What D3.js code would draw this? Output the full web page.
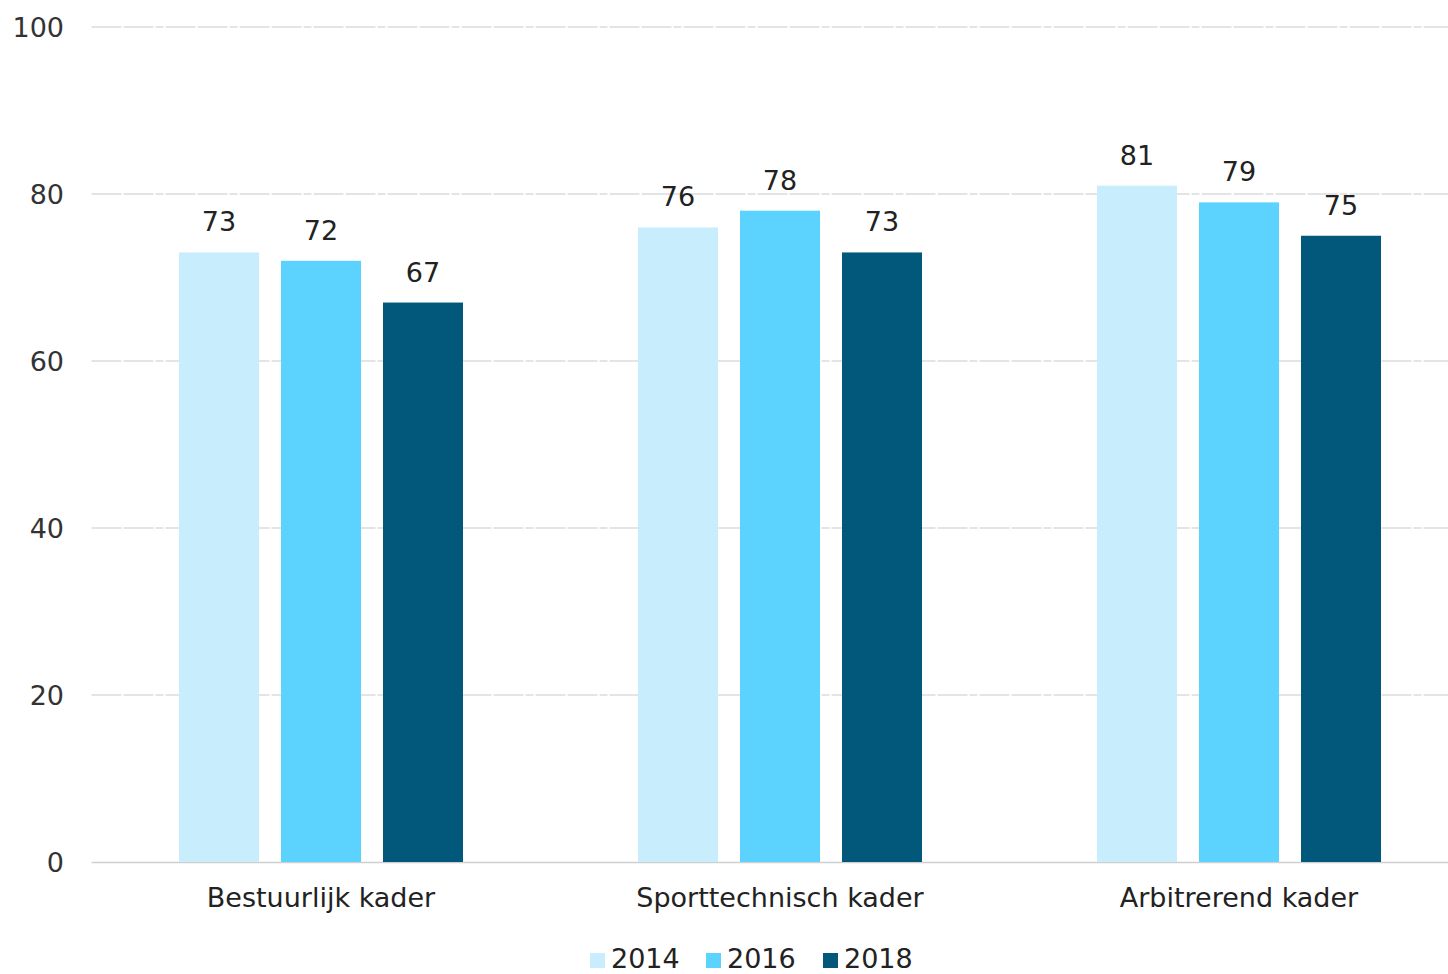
<!DOCTYPE html>
<html><head><meta charset="utf-8">
<script src="https://cdn.jsdelivr.net/npm/d3@7"></script>
<style>
html,body{margin:0;padding:0;background:#fff;}
svg{display:block;font-family:"DejaVu Sans",sans-serif;}
</style></head>
<body>
<svg id="chart" width="1448" height="974"></svg>
<script>
const categories = ["Bestuurlijk kader", "Sporttechnisch kader", "Arbitrerend kader"];
const seriesNames = ["2014", "2016", "2018"];
const values2014 = [73, 76, 81];
const values2016 = [72, 78, 79];
const values2018 = [67, 73, 75];
const yTicks = [0, 20, 40, 60, 80, 100];
const colors = ["#c8eefd", "#5bd3fe", "#01587a"];

(function () {
const seriesValues = [values2014, values2016, values2018];
const svg = d3.select("#chart");
const plotLeft = 91.5, bandW = 459, plotTop = 27, plotBottom = 862;

const x = d3.scaleBand().domain(categories).range([plotLeft, plotLeft + bandW * 3]).paddingInner(0).paddingOuter(0);
const xs = d3.scaleBand().domain(seriesNames).range([-142, 142]).paddingInner(22/102).paddingOuter(0);
const y = d3.scaleLinear().domain([0, 100]).range([plotBottom, plotTop]);

// grid
const g = svg.append("g");
yTicks.forEach(t => {
  if (t === 0) return;
  g.append("line").attr("x1", plotLeft).attr("x2", 1448).attr("y1", y(t)).attr("y2", y(t))
    .attr("stroke", "#dcdcdc").attr("stroke-width", 1.5).attr("stroke-dasharray", "30,2,30,2,8,2");
});
g.append("line").attr("x1", plotLeft).attr("x2", 1448).attr("y1", plotBottom + 0.5).attr("y2", plotBottom + 0.5)
  .attr("stroke", "#cfcfcf").attr("stroke-width", 1.5);

// y axis labels
svg.append("g").selectAll("text").data(yTicks).join("text")
  .attr("x", 64).attr("y", d => y(d)).attr("dy", "0.36em").attr("text-anchor", "end")
  .attr("font-size", 27).attr("fill", "#333").text(d => d);

// bars
const groups = svg.append("g").selectAll("g").data(categories).join("g")
  .attr("transform", c => `translate(${x(c) + x.bandwidth() / 2},0)`);
seriesNames.forEach((s, si) => {
  groups.append("rect")
    .attr("x", xs(s)).attr("width", xs.bandwidth())
    .attr("y", (c, ci) => y(seriesValues[si][ci]))
    .attr("height", (c, ci) => plotBottom - y(seriesValues[si][ci]))
    .attr("fill", colors[si]);
  groups.append("text")
    .attr("x", xs(s) + xs.bandwidth() / 2)
    .attr("y", (c, ci) => y(seriesValues[si][ci]) - 21)
    .attr("text-anchor", "middle").attr("font-size", 27).attr("fill", "#222")
    .text((c, ci) => seriesValues[si][ci]);
});

// category labels
svg.append("g").selectAll("text").data(categories).join("text")
  .attr("x", c => x(c) + x.bandwidth() / 2).attr("y", 907)
  .attr("text-anchor", "middle").attr("font-size", 27).attr("fill", "#222").text(c => c);

// legend
const legendX = [590, 706, 823];
const lg = svg.append("g");
seriesNames.forEach((s, i) => {
  lg.append("rect").attr("x", legendX[i]).attr("y", 953).attr("width", 15).attr("height", 15).attr("fill", colors[i]);
  lg.append("text").attr("x", legendX[i] + 21).attr("y", 968).attr("font-size", 27).attr("fill", "#222").text(s);
});
})();
</script>
</body></html>
